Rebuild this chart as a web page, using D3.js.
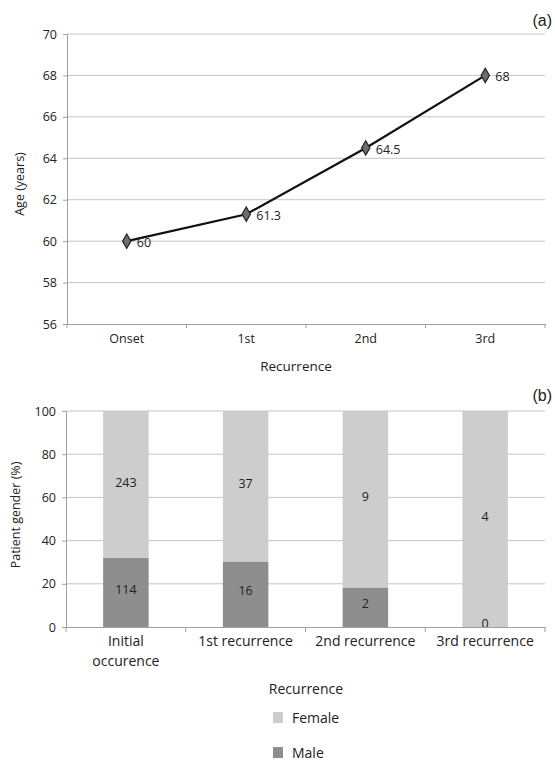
<!DOCTYPE html>
<html><head><meta charset="utf-8">
<script src="https://cdn.jsdelivr.net/npm/d3@7"></script>
<style>body{margin:0;background:#fff}svg{display:block}text{font-family:"Open Sans",Lato,sans-serif;fill:#222}</style>
</head><body>
<script>
// Panel (a)
const stages = ["Onset","1st","2nd","3rd"];
const ageValues = [60, 61.3, 64.5, 68];
const ageLabels = ["60","61.3","64.5","68"];
const ageTicks = [56,58,60,62,64,66,68,70];
// Panel (b)
const groups = ["Initial occurence","1st recurrence","2nd recurrence","3rd recurrence"];
const femaleCounts = [243, 37, 9, 4];
const maleCounts = [114, 16, 2, 0];
const pctTicks = [0,20,40,60,80,100];
const legendItems = ["Female","Male"];

const W = 555, H = 764;
const FONT = "'Open Sans',Lato,sans-serif";
const svg = d3.select("body").append("svg").attr("width", W).attr("height", H);
const gridColor = "#c4c4c4", axisColor = "#a0a0a0";
const femaleColor = "#cdcdcd", maleColor = "#8e8e8e";

// ---------- Panel (a)
const xa = d3.scaleBand().domain(stages).range([67, 545]);
const ya = d3.scaleLinear().domain([56, 70]).range([324, 34]);
const ga = svg.append("g");
ga.selectAll("line.grid").data(ageTicks.filter(d => d > 56)).join("line")
  .attr("x1", 67).attr("x2", 545).attr("y1", d => ya(d)).attr("y2", d => ya(d))
  .attr("stroke", gridColor).attr("stroke-width", 1);
const yAxA = ga.append("g").attr("transform", "translate(67,0)")
  .call(d3.axisLeft(ya).tickValues(ageTicks).tickSize(4).tickPadding(6));
const xAxA = ga.append("g").attr("transform", `translate(0,${ya(56)})`)
  .call(d3.axisBottom(xa).tickSize(0).tickPadding(10));
[yAxA, xAxA].forEach(a => {
  a.select(".domain").attr("stroke", axisColor);
  a.selectAll(".tick line").attr("stroke", axisColor);
  a.selectAll("text").style("font-size", "12.5px").style("font-family", FONT).attr("fill", "#222");
});
ga.selectAll("line.xt").data(stages.concat(["end"])).join("line")
  .attr("x1", (d, i) => i < stages.length ? xa(d) : xa.range()[1])
  .attr("x2", (d, i) => i < stages.length ? xa(d) : xa.range()[1])
  .attr("y1", ya(56)).attr("y2", ya(56) + 4).attr("stroke", axisColor);
const line = d3.line().x((d, i) => xa(stages[i]) + xa.bandwidth() / 2).y(d => ya(d));
ga.append("path").datum(ageValues).attr("d", line).attr("fill", "none")
  .attr("stroke", "#111").attr("stroke-width", 2.2);
ga.selectAll("path.mk").data(ageValues).join("path")
  .attr("d", d3.symbol(d3.symbolDiamond, 60))
  .attr("transform", (d, i) => `translate(${xa(stages[i]) + xa.bandwidth() / 2},${ya(d)})`)
  .attr("fill", "#6e6e6e").attr("stroke", "#222").attr("stroke-width", 1.2);
ga.selectAll("text.lbl").data(ageValues).join("text")
  .attr("x", (d, i) => xa(stages[i]) + xa.bandwidth() / 2 + 10)
  .attr("y", d => ya(d) + 6).text((d, i) => ageLabels[i]).style("font-size", "12.5px");
ga.append("text").attr("x", 296).attr("y", 371).attr("text-anchor", "middle")
  .text("Recurrence").style("font-size", "13.5px");
ga.append("text").attr("transform", `translate(24,${(ya(56) + ya(70)) / 2 + 5}) rotate(-90)`)
  .attr("text-anchor", "middle").text("Age (years)").style("font-size", "12.5px");
ga.append("text").attr("x", 552).attr("y", 26).attr("text-anchor", "end")
  .text("(a)").style("font-size", "16px").style("font-family", "Arial,'Liberation Sans',sans-serif");

// ---------- Panel (b)
const xb = d3.scaleBand().domain(groups).range([66, 545]).paddingInner(0.62).paddingOuter(0.31);
const yb = d3.scaleLinear().domain([0, 100]).range([627, 411]);
const gb = svg.append("g");
gb.selectAll("line.grid").data(pctTicks.filter(d => d > 0)).join("line")
  .attr("x1", 66).attr("x2", 545).attr("y1", d => yb(d)).attr("y2", d => yb(d))
  .attr("stroke", gridColor);
const data = groups.map((g, i) => {
  const tot = femaleCounts[i] + maleCounts[i];
  return { g, male: maleCounts[i], female: femaleCounts[i], mp: 100 * maleCounts[i] / tot };
});
gb.selectAll("rect.f").data(data).join("rect")
  .attr("x", d => xb(d.g)).attr("width", xb.bandwidth())
  .attr("y", yb(100)).attr("height", d => yb(d.mp) - yb(100)).attr("fill", femaleColor);
gb.selectAll("rect.m").data(data).join("rect")
  .attr("x", d => xb(d.g)).attr("width", xb.bandwidth())
  .attr("y", d => yb(d.mp)).attr("height", d => yb(0) - yb(d.mp)).attr("fill", maleColor);
gb.selectAll("text.fl").data(data).join("text")
  .attr("x", d => xb(d.g) + xb.bandwidth() / 2).attr("y", d => yb((100 + d.mp) / 2) + 2)
  .attr("text-anchor", "middle").text(d => d.female).style("font-size", "12.5px");
gb.selectAll("text.ml").data(data).join("text")
  .attr("x", d => xb(d.g) + xb.bandwidth() / 2).attr("y", d => yb(d.mp / 2) + 1)
  .attr("text-anchor", "middle").text(d => d.male).style("font-size", "12.5px");
const yAxB = gb.append("g").attr("transform", "translate(66,0)")
  .call(d3.axisLeft(yb).tickValues(pctTicks).tickSize(4).tickPadding(6));
const xAxB = gb.append("g").attr("transform", `translate(0,${yb(0)})`)
  .call(d3.axisBottom(xb).tickSize(0).tickPadding(9));
[yAxB, xAxB].forEach(a => {
  a.select(".domain").attr("stroke", axisColor);
  a.selectAll(".tick line").attr("stroke", axisColor);
  a.selectAll("text").style("font-size", "14px").style("font-family", FONT).attr("fill", "#222");
});
yAxB.selectAll("text").style("font-size", "12.5px");
xAxB.selectAll(".tick text").each(function (d) {
  const t = d3.select(this);
  if (d === "Initial occurence") {
    t.text(null);
    t.append("tspan").attr("x", 0).attr("dy", "0.71em").text("Initial");
    t.append("tspan").attr("x", 0).attr("dy", "1.45em").text("occurence");
  }
});
const bStep = (545 - 66) / groups.length;
gb.selectAll("line.xt").data(d3.range(groups.length + 1)).join("line")
  .attr("x1", i => 66 + i * bStep).attr("x2", i => 66 + i * bStep)
  .attr("y1", yb(0)).attr("y2", yb(0) + 5).attr("stroke", axisColor);
gb.append("text").attr("x", 306).attr("y", 694).attr("text-anchor", "middle")
  .text("Recurrence").style("font-size", "14px");
gb.append("text").attr("transform", `translate(20,${(yb(0) + yb(100)) / 2 - 4}) rotate(-90)`)
  .attr("text-anchor", "middle").text("Patient gender (%)").style("font-size", "12.5px");
gb.append("text").attr("x", 552).attr("y", 401).attr("text-anchor", "end")
  .text("(b)").style("font-size", "16px").style("font-family", "Arial,'Liberation Sans',sans-serif");
// legend
const lg = gb.selectAll("g.lg").data(legendItems).join("g")
  .attr("transform", (d, i) => `translate(273,${712 + i * 35})`);
lg.append("rect").attr("width", 10).attr("height", 11)
  .attr("fill", (d, i) => i === 0 ? femaleColor : maleColor);
lg.append("text").attr("x", 19).attr("y", 11).text(d => d).style("font-size", "14px");
</script>
</body></html>
